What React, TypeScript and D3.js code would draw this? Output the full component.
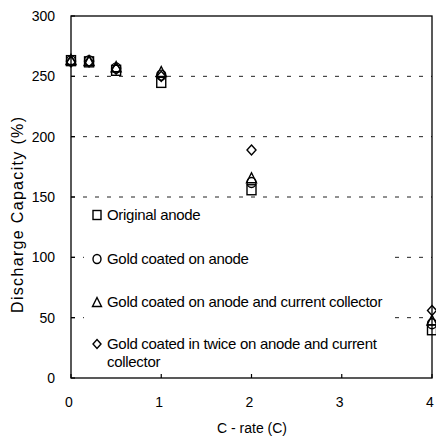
import React from "react";
import * as d3 from "d3";

const cRates = [0, 0.2, 0.5, 1, 2, 4];
const originalAnode = [263, 262, 255, 245, 156, 40];
const goldAnode = [263, 263, 257, 251, 162, 45];
const goldAnodeCollector = [264, 263, 258, 254, 166, 48];
const goldTwice = [262, 262, 256, 250, 189, 56];

const xTicks = [0, 1, 2, 3, 4];
const yTicks = [0, 50, 100, 150, 200, 250, 300];
const gridTicks = [50, 100, 150, 200, 250];

const legendLabels = [
  ["Original anode"],
  ["Gold coated on anode"],
  ["Gold coated on anode and current collector"],
  ["Gold coated in twice on anode and current", "collector"],
];

const W = 436, H = 436;
const M = { left: 71, right: 432, top: 16, bottom: 378 };

const x = d3.scaleLinear().domain([0, 4]).range([M.left, M.right]);
const y = d3.scaleLinear().domain([0, 300]).range([M.bottom, M.top]);

const font = "'Liberation Sans', Arial, sans-serif";

function Marker({ kind, cx, cy, s = 9 }: { kind: string; cx: number; cy: number; s?: number }) {
  const h = s / 2;
  const common = { fill: "white", fillOpacity: 0, stroke: "#000", strokeWidth: 1.4 };
  if (kind === "square") return <rect x={cx - h + 0.5} y={cy - h} width={s - 1} height={s} {...common} />;
  if (kind === "circle") return <ellipse cx={cx} cy={cy} rx={h - 0.5} ry={h} {...common} />;
  if (kind === "triangle")
    return <path d={`M${cx},${cy - h} L${cx + h},${cy + h} L${cx - h},${cy + h} Z`} {...common} />;
  return <path d={`M${cx},${cy - h} L${cx + h - 0.5},${cy} L${cx},${cy + h} L${cx - h + 0.5},${cy} Z`} {...common} />;
}

const seriesList = [
  { kind: "square", values: originalAnode },
  { kind: "circle", values: goldAnode },
  { kind: "triangle", values: goldAnodeCollector },
  { kind: "diamond", values: goldTwice },
];

const legendY = [215, 259, 302, 344];

export default function App() {
  return (
    <svg width={W} height={H} style={{ position: "absolute", left: 0, top: 0, background: "white" }}>
      <rect width={W} height={H} fill="white" />
      {gridTicks.map((t) => (
        <line key={t} x1={M.left} x2={M.right} y1={y(t)} y2={y(t)} stroke="#222" strokeWidth={1} strokeDasharray="4,8" />
      ))}
      {/* legend background */}
      <rect x={84} y={205} width={308} height={168} fill="white" />
      {/* frame */}
      <rect x={M.left} y={M.top} width={M.right - M.left} height={M.bottom - M.top} fill="none" stroke="#000" strokeWidth={1.3} />
      {yTicks.map((t) => (
        <g key={t}>
          <line x1={M.left} x2={M.left + 4} y1={y(t)} y2={y(t)} stroke="#000" strokeWidth={1.2} />
          <text x={M.left - 16} y={y(t) + 5} textAnchor="end" fontFamily={font} fontSize={14} fill="#000">{t}</text>
        </g>
      ))}
      {xTicks.map((t) => (
        <g key={t}>
          <line x1={x(t)} x2={x(t)} y1={M.bottom} y2={M.bottom - 4} stroke="#000" strokeWidth={1.2} />
          <text x={x(t) - 2} y={M.bottom + 29} textAnchor="middle" fontFamily={font} fontSize={14} fill="#000">{t}</text>
        </g>
      ))}
      <text x={252} y={433} textAnchor="middle" fontFamily={font} fontSize={14} fill="#000">C - rate (C)</text>
      <text transform="translate(23,215) rotate(-90)" textAnchor="middle" fontFamily={font} fontSize={16} textLength={196} lengthAdjust="spacing" fill="#000">Discharge Capacity (%)</text>
      {seriesList.map((s) =>
        s.values.map((v, i) => <Marker key={s.kind + i} kind={s.kind} cx={x(cRates[i])} cy={y(v)} s={10} />)
      )}
      {legendLabels.map((lines, i) => (
        <g key={i}>
          <Marker kind={seriesList[i].kind} cx={97} cy={legendY[i]} s={9} />
          {lines.map((ln, j) => (
            <text key={j} x={107} y={legendY[i] + 5 + j * 18} fontFamily={font} fontSize={15} letterSpacing={-0.3} fill="#000">{ln}</text>
          ))}
        </g>
      ))}
    </svg>
  );
}
